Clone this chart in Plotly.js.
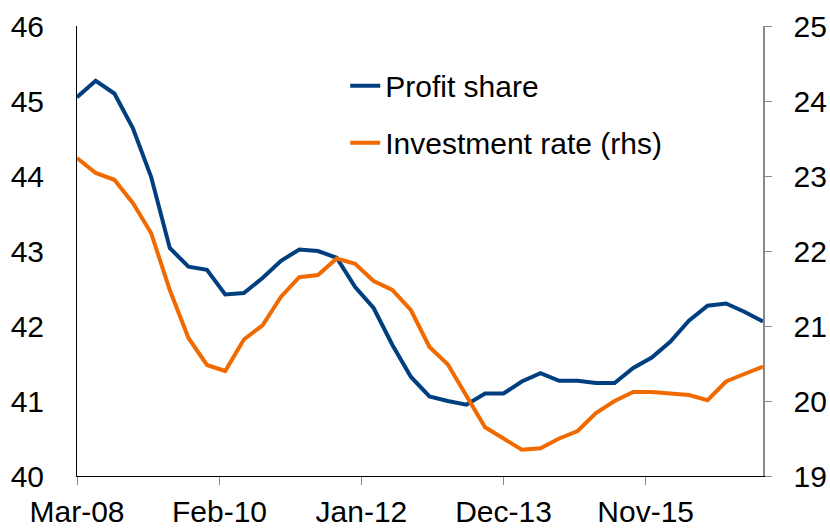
<!DOCTYPE html>
<html>
<head>
<meta charset="utf-8">
<script src="https://cdn.plot.ly/plotly-3.0.1.min.js"></script>
<style>html,body{margin:0;padding:0;background:#fff;}#chart{width:830px;height:528px;}</style>
</head>
<body>
<div id="chart"></div>
<script>
var dates = ['2008-03-01','2008-06-01','2008-09-01','2008-12-01',
  '2009-03-01','2009-06-01','2009-09-01','2009-12-01',
  '2010-03-01','2010-06-01','2010-09-01','2010-12-01',
  '2011-03-01','2011-06-01','2011-09-01','2011-12-01',
  '2012-03-01','2012-06-01','2012-09-01','2012-12-01',
  '2013-03-01','2013-06-01','2013-09-01','2013-12-01',
  '2014-03-01','2014-06-01','2014-09-01','2014-12-01',
  '2015-03-01','2015-06-01','2015-09-01','2015-12-01',
  '2016-03-01','2016-06-01','2016-09-01','2016-12-01',
  '2017-03-01','2017-06-01'];
var profitShare = [45.05,45.27,45.10,44.64,43.99,43.04,42.79,42.75,
  42.42,42.44,42.64,42.87,43.02,43.00,42.91,42.52,
  42.24,41.75,41.32,41.06,41.00,40.95,41.10,41.10,
  41.26,41.37,41.27,41.27,41.24,41.24,41.44,41.58,
  41.79,42.07,42.27,42.30,42.19,42.06];
var investmentRate = [23.24,23.04,22.95,22.64,22.24,21.48,20.84,20.48,
  20.40,20.82,21.01,21.39,21.65,21.68,21.90,21.83,
  21.60,21.48,21.21,20.72,20.49,20.08,19.65,19.50,
  19.35,19.37,19.50,19.60,19.84,20.00,20.12,20.12,
  20.10,20.08,20.01,20.26,20.36,20.46];
var tickDates = ['2008-03-01','2010-02-01','2012-01-01','2013-12-01','2015-11-01'];
var tickLabels = ['Mar-08','Feb-10','Jan-12','Dec-13','Nov-15'];

var fontFam = 'Liberation Sans, Arial, sans-serif';
var traces = [
  {x: dates, y: profitShare, name: 'Profit share', type: 'scatter', mode: 'lines',
   line: {color: '#003f7f', width: 4}, yaxis: 'y', legendgroup: 'a'},
  {x: dates, y: investmentRate, name: 'Investment rate (rhs)', type: 'scatter', mode: 'lines',
   line: {color: '#f06a00', width: 4}, yaxis: 'y2', legendgroup: 'b'}
];
var layout = {
  width: 830, height: 528,
  margin: {l: 77, r: 67, t: 26, b: 52},
  paper_bgcolor: '#fff', plot_bgcolor: '#fff',
  font: {family: fontFam, size: 30, color: '#000'},
  showlegend: true,
  legend: {x: 0.391, y: 0.925, xanchor: 'left', yanchor: 'top', traceorder: 'grouped',
    bgcolor: 'rgba(0,0,0,0)', font: {size: 30}, tracegroupgap: 15},
  xaxis: {type: 'date', range: ['2008-03-01','2017-06-01'],
    tickmode: 'array', tickvals: tickDates, ticktext: tickLabels,
    showgrid: false, zeroline: false, showline: true, linecolor: '#000', linewidth: 1,
    ticks: 'outside', ticklen: 8, tickcolor: '#888', tickwidth: 1, ticklabelstandoff: 1},
  yaxis: {range: [40, 46], dtick: 1, showgrid: false, zeroline: false,
    showline: true, linecolor: '#000', linewidth: 1, ticks: '', ticklabelstandoff: 26},
  yaxis2: {range: [19, 25], dtick: 1, overlaying: 'y', side: 'right',
    showgrid: false, zeroline: false, showline: true, linecolor: '#888', linewidth: 1.5,
    ticks: 'outside', ticklen: 7, tickcolor: '#888', tickwidth: 1, ticklabelstandoff: 16}
};
Plotly.newPlot('chart', traces, layout, {displayModeBar: false, staticPlot: true});
</script>
</body>
</html>
